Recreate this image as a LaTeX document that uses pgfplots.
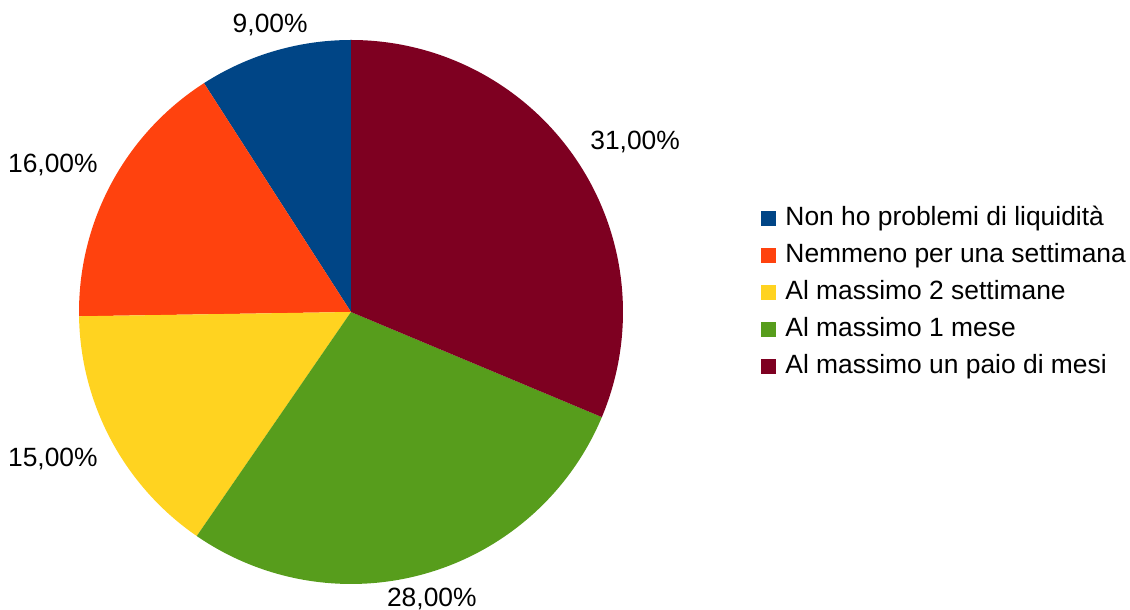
\documentclass[border=0pt]{standalone}
\usepackage{pgfplots}
\usepackage{pgfplotstable}
\pgfplotsset{compat=1.18}
\usepackage{fontspec}
\setmainfont{Liberation Sans}

\definecolor{pie0}{HTML}{004586}
\definecolor{pie1}{HTML}{FF420E}
\definecolor{pie2}{HTML}{FFD320}
\definecolor{pie3}{HTML}{579D1C}
\definecolor{pie4}{HTML}{7E0021}

\pgfkeys{/pgf/number format/assume math mode=true}

% slices, counter-clockwise from the top
\pgfplotstableread[col sep=comma]{
value,anchor,label
9,south,Non ho problemi di liquidità
16,south east,Nemmeno per una settimana
15,north east,Al massimo 2 settimane
28,north,Al massimo 1 mese
31,south west,Al massimo un paio di mesi
}\piedata

\pgfplotstablegetrowsof{\piedata}
\pgfmathtruncatemacro\lastrow{\pgfplotsretval-1}
\def\pietotal{0}
\pgfplotsforeachungrouped \i in {0,...,\lastrow}{%
  \pgfplotstablegetelem{\i}{value}\of\piedata
  \pgfmathsetmacro\pietotal{\pietotal+\pgfplotsretval}%
}
\def\piecum{0}
\pgfplotsforeachungrouped \i in {0,...,\lastrow}{%
  \pgfplotstablegetelem{\i}{value}\of\piedata
  \let\pieval\pgfplotsretval
  \pgfmathsetmacro\pieStart{90+\piecum/\pietotal*360}%
  \pgfmathsetmacro\piecum{\piecum+\pieval}%
  \pgfmathsetmacro\pieEnd{90+\piecum/\pietotal*360}%
  \pgfmathsetmacro\pieMid{(\pieStart+\pieEnd)/2}%
  \expandafter\xdef\csname pieA\i\endcsname{\pieStart}%
  \expandafter\xdef\csname pieB\i\endcsname{\pieEnd}%
  \expandafter\xdef\csname pieM\i\endcsname{\pieMid}%
  \expandafter\xdef\csname pieV\i\endcsname{\pieval}%
  \pgfplotstablegetelem{\i}{anchor}\of\piedata
  \expandafter\xdef\csname pieN\i\endcsname{\pgfplotsretval}%
  \pgfplotstablegetelem{\i}{label}\of\piedata
  \expandafter\xdef\csname pieL\i\endcsname{\pgfplotsretval}%
}

\begin{document}
\begin{tikzpicture}[font=\fontsize{13.2pt}{15.5pt}\selectfont]
  \begin{axis}[
      x=0.5pt, y=0.5pt,
      xmin=-351, xmax=779,
      ymin=-298, ymax=312,
      hide axis,
      clip=false,
      legend image code/.code={\fill[#1, draw=none] (0pt,-3.6pt) rectangle (7.5pt,3.9pt);},
      legend style={
          at={(0.6735,0.5197)}, anchor=west,
          draw=none, fill=none, inner sep=0pt,
          font=\fontsize{13.2pt}{15.5pt}\selectfont,
          row sep=6pt, column sep=4.5pt,
          nodes={inner sep=0pt, text height=9.7pt, text depth=2.8pt},
          cells={anchor=west},
        },
    ]
    \path (axis cs:-351,-298) rectangle (axis cs:779,312);
    \pgfplotsinvokeforeach{0,...,\lastrow}{
      \edef\pieslice{\noexpand\fill[pie#1] (axis cs:0,0) -- ++(\csname pieA#1\endcsname:136pt)
        arc[start angle=\csname pieA#1\endcsname, end angle=\csname pieB#1\endcsname, radius=136pt] -- cycle;}
      \pieslice
      \edef\pielabel{\noexpand\node[anchor=\csname pieN#1\endcsname, inner sep=0pt]
        at ([shift={(\csname pieM#1\endcsname:143.5pt)}]axis cs:0,0)
        {\noexpand\pgfmathprintnumber[fixed,fixed zerofill,precision=2,use comma]{\csname pieV#1\endcsname}\noexpand\%};}
      \pielabel
      \addlegendimage{fill=pie#1}
      \addlegendentryexpanded{\csname pieL#1\endcsname}
    }
  \end{axis}
\end{tikzpicture}
\end{document}
